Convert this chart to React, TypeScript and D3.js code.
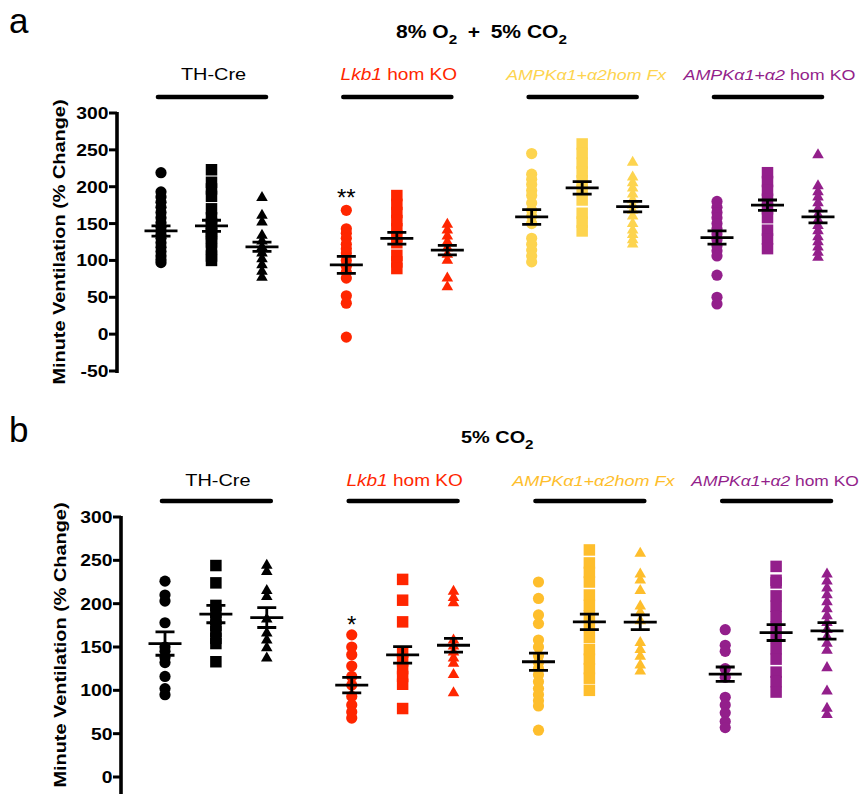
import React from 'react';
import * as d3 from 'd3';

const FONT = "'Liberation Sans', Arial, Helvetica, sans-serif";
const SX = 1.17; // horizontal stretch of the original typography

// ---------------- data ----------------
const groupLabelParts: [string, boolean][][] = [
  [['TH-Cre', false]],
  [['Lkb1', true], [' hom KO', false]],
  [['AMPKα1+α2hom Fx', true]],
  [['AMPKα1+α2', true], [' hom KO', false]],
];
const markerShapes = ['circle', 'square', 'triangle'];

const yTicksA = [-50, 0, 50, 100, 150, 200, 250, 300];
const yTicksB = [0, 50, 100, 150, 200, 250, 300];

// Panel a: 8% O2 + 5% CO2  — [circles, squares, triangles]
const aTHCre = [
  [219, 193, 186, 179, 172, 165, 158, 151, 145, 140, 135, 130, 124, 118, 112, 106, 101, 97],
  [223, 206, 197, 187, 170, 158, 150, 146, 140, 136, 130, 125, 115, 106, 100],
  [185, 161, 152, 134, 126, 118, 110, 102, 94, 85, 77],
];
const aLkb1 = [
  [168, 143, 137, 130, 122, 116, 110, 100, 92, 84, 76, 52, 42, -4],
  [188, 176, 165, 154, 143, 133, 124, 107, 98, 89],
  [149, 141, 133, 125, 117, 108, 100, 76, 64],
];
const aAmpkFx = [
  [245, 217, 210, 203, 195, 188, 178, 168, 160, 150, 130, 122, 114, 106, 98],
  [258, 245, 232, 220, 208, 195, 182, 164, 152, 140],
  [233, 213, 205, 198, 190, 182, 175, 168, 160, 150, 141, 135, 128, 122],
];
const aAmpkKO = [
  [180, 172, 165, 158, 150, 143, 136, 128, 120, 113, 106, 80, 50, 41],
  [219, 207, 195, 183, 170, 158, 141, 129, 116],
  [243, 201, 193, 186, 178, 170, 162, 155, 147, 140, 132, 125, 118, 111, 104],
];
const aMeans = [[140, 147, 118.5], [94, 130, 114], [159, 198.5, 173], [131, 175, 159]];
const aSems = [[7, 7.5, 6.3], [11.5, 8, 6.5], [10, 8.5, 7], [9, 7, 8]];

// Panel b: 5% CO2
const bTHCre = [
  [226, 210, 203, 178, 150, 145, 138, 132, 116, 102, 95],
  [244, 224, 198, 190, 182, 175, 168, 160, 154, 133],
  [244, 237, 215, 208, 182, 166, 158, 149, 137],
];
const bLkb1 = [
  [164, 150, 141, 128, 116, 106, 93, 83, 75, 68],
  [228, 204, 179, 144, 134, 125, 116, 107, 79],
  [214, 207, 201, 158, 151, 144, 137, 131, 118, 97],
];
const bAmpkFx = [
  [225, 206, 187, 177, 158, 150, 140, 132, 125, 118, 110, 102, 95, 88, 82, 54],
  [262, 247, 236, 225, 210, 198, 186, 174, 161, 147, 136, 125, 114, 100],
  [258, 234, 227, 215, 197, 190, 180, 155, 147, 139, 129, 122],
];
const bAmpkKO = [
  [170, 152, 145, 125, 115, 92, 83, 74, 64, 57],
  [243, 227, 224, 209, 197, 185, 173, 161, 148, 136, 121, 110, 98],
  [234, 226, 218, 210, 202, 194, 186, 178, 170, 162, 154, 146, 126, 99, 79, 72],
];
const bMeans = [[154, 188, 184], [106, 141, 152], [133, 179, 178.6], [118.6, 166.7, 168.6]];
const bSems = [[13.5, 10, 11.5], [9, 9.5, 8], [10, 9, 8.5], [8.3, 9.2, 9.5]];

const colorsA = ['#000000', '#FF2600', '#FDD44F', '#931F8B'];
const colorsB = ['#000000', '#FF2600', '#FEBE2C', '#931F8B'];

// ---------------- layout ----------------
const GROUP_STEP = 3.67;
const symbols: Record<string, string> = {
  circle: d3.symbol(d3.symbolCircle, Math.PI * 5.6 * 5.6)() as string,
  square: d3.symbol(d3.symbolSquare, 11.5 * 11.5)() as string,
  triangle: d3.symbol(d3.symbolTriangle, 58)() as string,
};

type PanelCfg = {
  data: number[][][];
  means: number[][];
  sems: number[][];
  colors: string[];
  ticks: number[];
  yDomain: [number, number];
  yRange: [number, number];
  axisX: number;
  axisEnd: number;
  xRange: [number, number];
  lineY: number;
  labelY: number;
  letter: string;
  letterY: number;
  titleCenterY: number;
  titleX: number;
  asterisk: string;
  asteriskY: number;
  header: React.ReactNode;
  labelSizes: number[];
  labelShift: number[];
};

function Panel({ cfg }: { cfg: PanelCfg }) {
  const y = d3.scaleLinear().domain(cfg.yDomain).range(cfg.yRange);
  const x = d3.scaleLinear().domain([0, 3 * GROUP_STEP + 2]).range(cfg.xRange);
  const colX = (g: number, c: number) => x(g * GROUP_STEP + c);
  const yTop = y(cfg.ticks[cfg.ticks.length - 1]);

  return (
    <g fontFamily={FONT}>
      <text x={9} y={cfg.letterY} fontSize={35}>{cfg.letter}</text>
      {cfg.header}

      {/* y axis */}
      <line x1={cfg.axisX} x2={cfg.axisX} y1={yTop - 1} y2={cfg.axisEnd} stroke="#000" strokeWidth={3.6} />
      {cfg.ticks.map((t) => (
        <g key={t}>
          <line x1={cfg.axisX - 8} x2={cfg.axisX} y1={y(t)} y2={y(t)} stroke="#000" strokeWidth={3} />
          <text
            transform={`translate(${cfg.axisX - 8.5},${y(t)}) scale(${SX},1)`}
            textAnchor="end"
            dy="0.36em"
            fontSize={16.5}
            fontWeight="bold"
          >
            {t}
          </text>
        </g>
      ))}
      <text
        transform={`translate(${cfg.titleX},${cfg.titleCenterY}) rotate(-90) scale(${SX},1)`}
        textAnchor="middle"
        fontSize={17}
        fontWeight="bold"
      >
        Minute Ventilation (% Change)
      </text>

      {/* group headers */}
      {groupLabelParts.map((parts, g) => {
        const x0 = colX(g, 0) - 3;
        const x1 = colX(g, 2) + 4;
        const cx = (x0 + x1) / 2 + 1.5 + cfg.labelShift[g];
        return (
          <g key={g}>
            <line x1={x0} x2={x1} y1={cfg.lineY} y2={cfg.lineY} stroke="#000" strokeWidth={4.6} strokeLinecap="round" />
            <text
              transform={`translate(${cx},${cfg.labelY}) scale(${SX},1)`}
              textAnchor="middle"
              fontSize={cfg.labelSizes[g]}
              fill={cfg.colors[g]}
            >
              {parts.map(([s, it], i) => (
                <tspan key={i} fontStyle={it ? 'italic' : 'normal'}>{s}</tspan>
              ))}
            </text>
          </g>
        );
      })}

      {/* points */}
      {cfg.data.map((grp, g) =>
        grp.map((vals, c) =>
          vals.map((v, i) => (
            <path
              key={`${g}-${c}-${i}`}
              d={symbols[markerShapes[c]]}
              transform={`translate(${colX(g, c)},${y(v)})`}
              fill={cfg.colors[g]}
            />
          ))
        )
      )}

      {/* mean ± SEM */}
      {cfg.means.map((row, g) =>
        row.map((m, c) => {
          const cx = colX(g, c);
          const s = cfg.sems[g][c];
          const d = `M${cx - 16.5},${y(m)}H${cx + 16.5}M${cx - 9.5},${y(m + s)}H${cx + 9.5}M${cx - 9.5},${y(m - s)}H${cx + 9.5}M${cx},${y(m + s)}V${y(m - s)}`;
          return <path key={`e${g}-${c}`} d={d} stroke="#000" strokeWidth={2.8} fill="none" />;
        })
      )}

      <text x={colX(1, 0)} y={cfg.asteriskY} textAnchor="middle" fontSize={24}>{cfg.asterisk}</text>
    </g>
  );
}

export default function App() {
  const headerA = (
    <text transform={`translate(396,38) scale(${SX},1)`} fontFamily={FONT} fontWeight="bold" fontSize={18}>
      <tspan>8% O</tspan>
      <tspan fontSize={13} dy={6}>2</tspan>
      <tspan x={61.3} dy={-6}>+</tspan>
      <tspan x={80.9}>5% CO</tspan>
      <tspan fontSize={13} dy={6}>2</tspan>
    </text>
  );
  const headerB = (
    <text transform={`translate(461,443) scale(${SX},1)`} fontFamily={FONT} fontWeight="bold" fontSize={17}>
      <tspan>5% CO</tspan>
      <tspan fontSize={13} dy={6}>2</tspan>
    </text>
  );

  const cfgA: PanelCfg = {
    data: [aTHCre, aLkb1, aAmpkFx, aAmpkKO],
    means: aMeans,
    sems: aSems,
    colors: colorsA,
    ticks: yTicksA,
    yDomain: [-50, 300],
    yRange: [371, 113],
    axisX: 117,
    axisEnd: 373,
    xRange: [161, 818],
    lineY: 97,
    labelY: 80,
    letter: 'a',
    letterY: 33,
    titleCenterY: 242,
    titleX: 65,
    asterisk: '**',
    asteriskY: 206,
    header: headerA,
    labelSizes: [17, 16.3, 15.2, 15.3],
    labelShift: [0, 0, 2, 0],
  };
  const cfgB: PanelCfg = {
    data: [bTHCre, bLkb1, bAmpkFx, bAmpkKO],
    means: bMeans,
    sems: bSems,
    colors: colorsB,
    ticks: yTicksB,
    yDomain: [0, 300],
    yRange: [777, 517],
    axisX: 121,
    axisEnd: 800,
    xRange: [165, 827],
    lineY: 501,
    labelY: 486,
    letter: 'b',
    letterY: 442,
    titleCenterY: 645,
    titleX: 66,
    asterisk: '*',
    asteriskY: 633,
    header: headerB,
    labelSizes: [17, 16.3, 15.4, 14.9],
    labelShift: [0, 0, 2, -3],
  };

  return (
    <svg
      width={863}
      height={794}
      viewBox="0 0 863 794"
      style={{ position: 'absolute', left: 0, top: 0, background: '#fff' }}
    >
      <rect width={863} height={794} fill="#fff" />
      <Panel cfg={cfgA} />
      <Panel cfg={cfgB} />
    </svg>
  );
}
